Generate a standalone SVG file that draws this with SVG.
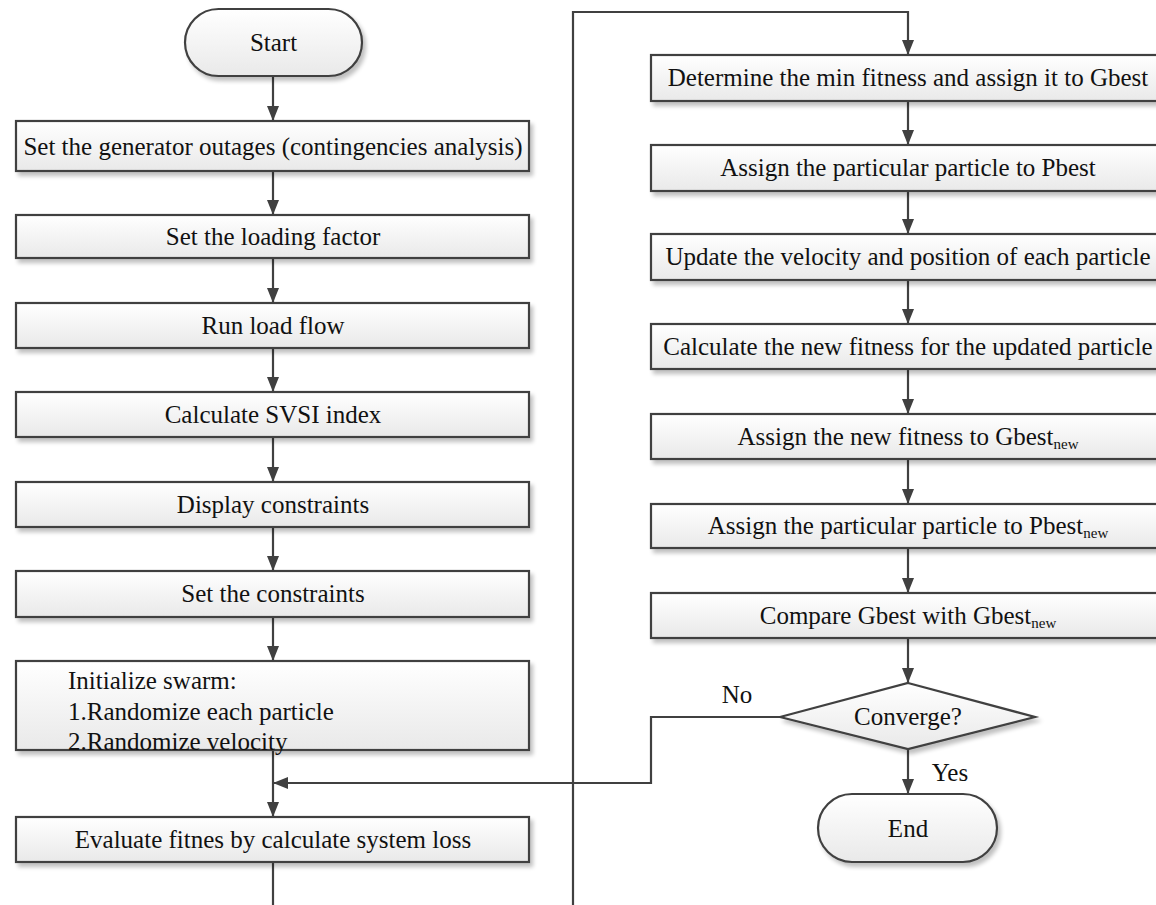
<svg xmlns="http://www.w3.org/2000/svg" width="1156" height="905" viewBox="0 0 1156 905">
<style>
.box{fill:url(#g);stroke:#404040;stroke-width:2.2;filter:url(#sh)}
.t{font-family:"Liberation Serif","Times New Roman",serif;font-size:25px;fill:#111;text-anchor:middle}
.tl{font-family:"Liberation Serif","Times New Roman",serif;font-size:25px;fill:#111}
.sub{font-size:15px}
.c{fill:none;stroke:#404040;stroke-width:2.2}
</style>
<defs>
<linearGradient id="g" x1="0" y1="0" x2="0" y2="1">
<stop offset="0" stop-color="#ffffff"/>
<stop offset="1" stop-color="#e9e9e9"/>
</linearGradient>
<filter id="sh" x="-5%" y="-20%" width="115%" height="150%">
<feGaussianBlur in="SourceAlpha" stdDeviation="2"/>
<feOffset dx="3" dy="4" result="o"/>
<feComponentTransfer><feFuncA type="linear" slope="0.25"/></feComponentTransfer>
<feMerge><feMergeNode/><feMergeNode in="SourceGraphic"/></feMerge>
</filter>
<marker id="ah" viewBox="0 0 15 12" refX="15" refY="6" markerWidth="15" markerHeight="12" orient="auto" markerUnits="userSpaceOnUse">
<path d="M0,0 L15,6 L0,12 z" fill="#404040"/>
</marker>
</defs>

<g id="connectors">
<path class="c" d="M273,76 V121" marker-end="url(#ah)"/>
<path class="c" d="M273,171 V215" marker-end="url(#ah)"/>
<path class="c" d="M273,258 V303" marker-end="url(#ah)"/>
<path class="c" d="M273,348 V392" marker-end="url(#ah)"/>
<path class="c" d="M273,437 V482" marker-end="url(#ah)"/>
<path class="c" d="M273,527 V571" marker-end="url(#ah)"/>
<path class="c" d="M273,617 V661" marker-end="url(#ah)"/>
<path class="c" d="M273,750 V817" marker-end="url(#ah)"/>
<path class="c" d="M273,862 V905"/>
<path class="c" d="M573,905 V12 H908 V55" marker-end="url(#ah)"/>
<path class="c" d="M908,101 V145" marker-end="url(#ah)"/>
<path class="c" d="M908,191 V234" marker-end="url(#ah)"/>
<path class="c" d="M908,280 V324" marker-end="url(#ah)"/>
<path class="c" d="M908,369 V414" marker-end="url(#ah)"/>
<path class="c" d="M908,459 V504" marker-end="url(#ah)"/>
<path class="c" d="M908,548 V593" marker-end="url(#ah)"/>
<path class="c" d="M908,638 V683" marker-end="url(#ah)"/>
<path class="c" d="M780,717 H651 V783 H273" marker-end="url(#ah)"/>
<path class="c" d="M908,749 V794" marker-end="url(#ah)"/>
<text class="t" x="737" y="703">No</text>
<text class="t" x="950" y="781">Yes</text>
</g>

<g id="start">
<rect class="box" x="185" y="9" width="177" height="67" rx="33.5" ry="33.5"/>
<text class="t" x="273.5" y="51">Start</text>
</g>
<g id="n1">
<rect class="box" x="16" y="121" width="513" height="50"/>
<text class="t" x="273" y="155">Set the generator outages (contingencies analysis)</text>
</g>
<g id="n2">
<rect class="box" x="16" y="215" width="513" height="43"/>
<text class="t" x="273" y="245">Set the loading factor</text>
</g>
<g id="n3">
<rect class="box" x="16" y="303" width="513" height="45"/>
<text class="t" x="273" y="334">Run load flow</text>
</g>
<g id="n4">
<rect class="box" x="16" y="392" width="513" height="45"/>
<text class="t" x="273" y="423">Calculate SVSI index</text>
</g>
<g id="n5">
<rect class="box" x="16" y="482" width="513" height="45"/>
<text class="t" x="273" y="513">Display constraints</text>
</g>
<g id="n6">
<rect class="box" x="16" y="571" width="513" height="46"/>
<text class="t" x="273" y="602">Set the  constraints</text>
</g>
<g id="n7">
<rect class="box" x="16" y="661" width="513" height="89"/>
<text class="tl" x="68" y="689">Initialize swarm:</text>
<text class="tl" x="68" y="720">1.Randomize each particle</text>
<text class="tl" x="68" y="750">2.Randomize velocity</text>
</g>
<g id="n8">
<rect class="box" x="16" y="817" width="513" height="45"/>
<text class="t" x="273" y="848">Evaluate fitnes by calculate system loss</text>
</g>

<g id="r1">
<rect class="box" x="651" y="55" width="515" height="46"/>
<text class="t" x="908" y="86">Determine the min fitness and assign it to Gbest</text>
</g>
<g id="r2">
<rect class="box" x="651" y="145" width="515" height="46"/>
<text class="t" x="908" y="176">Assign the particular particle to Pbest</text>
</g>
<g id="r3">
<rect class="box" x="651" y="234" width="515" height="46"/>
<text class="t" x="908" y="265">Update the velocity and position of each particle</text>
</g>
<g id="r4">
<rect class="box" x="651" y="324" width="515" height="45"/>
<text class="t" x="908" y="355">Calculate the new fitness for the updated particle</text>
</g>
<g id="r5">
<rect class="box" x="651" y="414" width="515" height="45"/>
<text class="t" x="908" y="445">Assign the new fitness to Gbest<tspan class="sub" dy="4">new</tspan></text>
</g>
<g id="r6">
<rect class="box" x="651" y="504" width="515" height="44"/>
<text class="t" x="908" y="534">Assign the particular particle to Pbest<tspan class="sub" dy="4">new</tspan></text>
</g>
<g id="r7">
<rect class="box" x="651" y="593" width="515" height="45"/>
<text class="t" x="908" y="624">Compare Gbest with Gbest<tspan class="sub" dy="4">new</tspan></text>
</g>
<g id="decision">
<polygon class="box" points="908,683 1035,717 908,749 780,717"/>
<text class="t" x="908" y="725">Converge?</text>
</g>
<g id="end">
<rect class="box" x="818" y="794" width="179" height="68" rx="34" ry="34"/>
<text class="t" x="908" y="837">End</text>
</g>
</svg>
